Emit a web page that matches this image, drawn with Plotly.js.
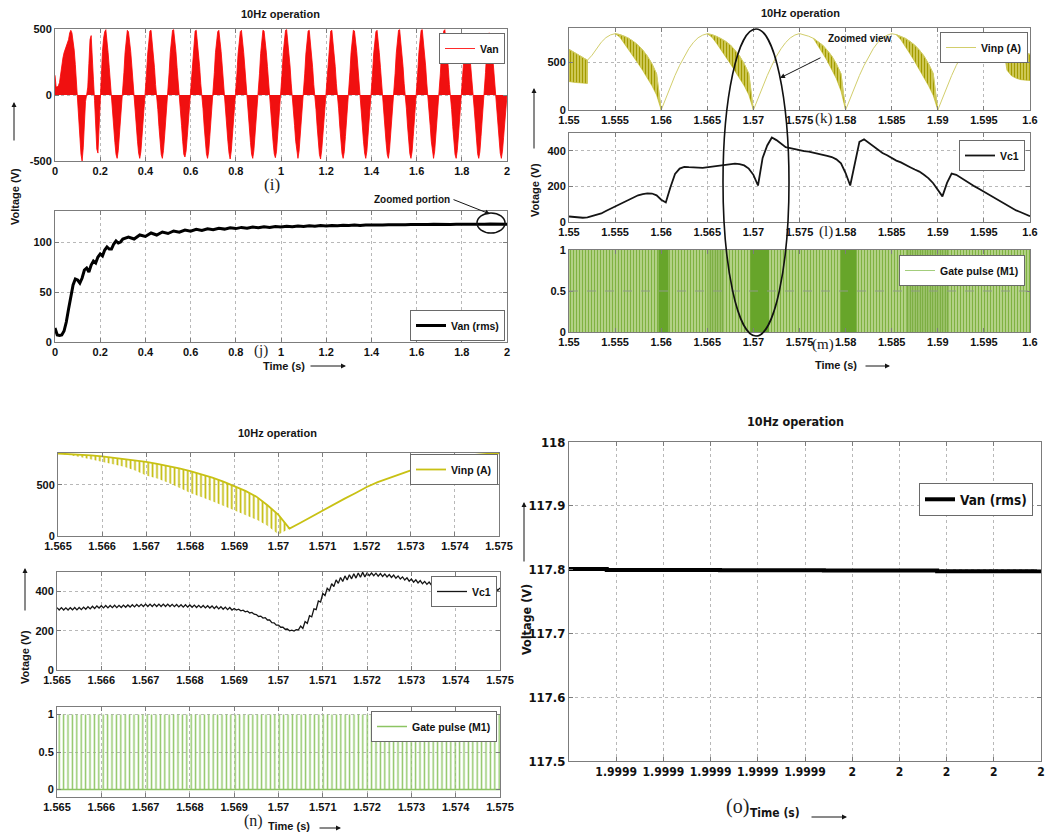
<!DOCTYPE html>
<html>
<head>
<meta charset="utf-8">
<script src="https://cdn.plot.ly/plotly-3.0.1.min.js"></script>
<style>
  html, body { margin: 0; padding: 0; background: #fff; }
  #chart { width: 1049px; height: 833px; }
</style>
</head>
<body>
<div id="chart"></div>
<script>
// ---------------- data ----------------
// (i) phase voltage Van, envelope sampled every 5 ms from t = 0 s
const vanStart = 0, vanStep = 0.005;
const vanEnv = [
  150, 60, 62, 70, 95, 170, 230, 280, 320, 345, 370, 395, 420, 470, 490, 470, 420, 340, 230, 90,
  0, -170, -330, -450, -500, -400, -220, -50, 0, 60, 240, 420, 450, 320, 120, -40, -250, -410, -440, -220,
  0, 180, 330, 430, 480, 495, 420, 320, 210, 80, 0, -110, -240, -360, -450, -480, -420, -310, -190, -60,
  0, 170, 320, 430, 490, 480, 420, 330, 220, 90, 0, -100, -230, -350, -440, -480, -430, -320, -200, -70,
  0, 160, 310, 420, 485, 490, 410, 320, 210, 80, 0, -110, -240, -360, -450, -480, -420, -310, -190, -60,
  0, 170, 320, 430, 490, 495, 420, 330, 210, 80, 0, -100, -230, -350, -450, -470, -425, -320, -200, -70,
  0, 165, 315, 425, 485, 490, 415, 325, 215, 85, 0, -105, -235, -355, -445, -480, -430, -315, -195, -65,
  0, 170, 320, 430, 480, 490, 420, 330, 220, 90, 0, -100, -230, -350, -440, -485, -425, -320, -200, -70,
  0, 160, 310, 420, 480, 490, 415, 320, 210, 80, 0, -110, -240, -360, -450, -480, -420, -310, -190, -60,
  0, 165, 315, 425, 490, 485, 415, 325, 215, 85, 0, -105, -235, -355, -445, -475, -430, -315, -195, -65,
  0, 170, 320, 430, 490, 495, 420, 330, 220, 90, 0, -100, -230, -350, -440, -480, -425, -320, -200, -70,
  0, 160, 310, 420, 485, 490, 410, 320, 210, 80, 0, -110, -240, -360, -450, -485, -420, -310, -190, -60,
  0, 165, 315, 425, 485, 490, 415, 325, 215, 85, 0, -105, -235, -355, -445, -480, -430, -315, -195, -65,
  0, 170, 320, 430, 490, 485, 420, 330, 220, 90, 0, -100, -230, -350, -440, -480, -425, -320, -200, -70,
  0, 160, 310, 420, 480, 490, 415, 320, 210, 80, 0, -110, -240, -360, -450, -480, -420, -310, -190, -60,
  0, 165, 315, 425, 490, 495, 415, 325, 215, 85, 0, -105, -235, -355, -445, -480, -430, -315, -195, -65,
  0, 170, 320, 430, 490, 495, 420, 330, 220, 90, 0, -100, -230, -350, -440, -480, -425, -320, -200, -70,
  0, 160, 310, 420, 485, 495, 410, 320, 210, 80, 0, -110, -240, -360, -450, -480, -420, -310, -190, -60,
  0, 165, 315, 420, 460, 455, 415, 325, 215, 85, 0, -105, -235, -355, -445, -480, -430, -315, -195, -65,
  0, 170, 320, 430, 470, 465, 420, 330, 220, 90, 0, -100, -230, -350, -440, -480, -425, -320, -200, -70,
  0
];

// (j) Van rms build-up
const rmsEarlyT = [0, 0.005, 0.01, 0.02, 0.03, 0.04, 0.05, 0.06, 0.07, 0.08, 0.09, 0.10, 0.11, 0.12, 0.13,
  0.14, 0.15, 0.16, 0.17, 0.18, 0.19, 0.20, 0.21, 0.22, 0.23, 0.24, 0.25, 0.26, 0.27, 0.28, 0.29];
const rmsEarlyV = [14, 9, 7, 6.5, 7, 11, 20, 33, 46, 57, 63, 62, 59, 64, 72,
  74, 70, 77, 81, 79, 85, 88, 86, 92, 95, 93, 93, 98, 101, 99, 100];
const rmsLateStart = 0.3, rmsLateStep = 0.025;
const rmsLateV = [
  103, 105, 103, 107, 105.5, 109, 107, 110, 108.5, 111,
  109.8, 112, 110.8, 112.7, 111.6, 113.3, 112.3, 113.8, 112.9, 114.2,
  113.4, 114.6, 113.8, 114.9, 114.2, 115.2, 114.6, 115.5, 114.9, 115.8,
  115.2, 116, 115.5, 116.2, 115.7, 116.4, 116, 116.6, 116.2, 116.8,
  116.4, 116.9, 116.6, 117.1, 116.8, 117.2, 116.9, 117.3, 117.1, 117.4,
  117.2, 117.5, 117.3, 117.6, 117.4, 117.7, 117.5, 117.8, 117.6, 117.8,
  117.7, 117.9, 117.7, 117.9, 117.8, 118, 117.8, 118, 117.8
];

// (k) input voltage Vinp (A), 0.5 ms samples from 1.55 s; lower edge of the chopped parts
const vinpKStart = 1.55, vinpKStep = 0.0005;
const vinpK = [
  640, 610, 582, 555, 525,
  578, 652, 715, 763, 792, 805,
  796, 778, 755, 722, 684, 632, 568, 487, 382, 0,
  127, 249, 365, 471, 566, 648, 714, 762, 790, 804,
  795, 777, 754, 723, 686, 633, 570, 488, 384, 0,
  124, 246, 362, 470, 567, 646, 712, 760, 791, 806,
  796, 778, 756, 724, 685, 631, 569, 486, 383, 0,
  126, 248, 364, 469, 565, 647, 713, 761, 789, 805,
  795, 777, 755, 722, 684, 632, 570, 487, 385, 0,
  125, 247, 363, 470, 566, 647, 713, 761, 790, 805,
  796, 778, 755, 724, 692, 668, 642, 620, 602, 588
];
const vinpKLo = [
  300, 292, 286, 282, 280,
  null, null, null, null, null,
  805,
  770, 706, 640, 561, 490, 416, 340, 255, 158, 0,
  null, null, null, null, null, null, null, null, null,
  804,
  768, 704, 638, 560, 488, 414, 338, 256, 160, 0,
  null, null, null, null, null, null, null, null, null, null, null, null,
  756,
  680, 600, 520, 430, 330, 200, 0,
  null, null, null, null, null, null, null, null, null, null,
  795, 740, 670, 590, 510, 430, 345, 255, 155, 0,
  null, null, null, null, null, null, null, null, null, null, null, null, null,
  724,
  420, 360, 335, 320, 315, 312
];

// (l) capacitor voltage Vc1, 0.5 ms samples from 1.55 s
const vc1KStart = 1.55, vc1KStep = 0.0005;
const vc1K = [
  31, 28, 25, 24, 26, 33, 40, 48, 62, 75,
  88, 100, 112, 128, 140, 150, 157, 161, 160, 150,
  125, 110, 195, 270, 300, 310, 308, 305, 306, 304,
  308, 312, 315, 318, 322, 326, 328, 325, 318, 300,
  265, 205, 360, 430, 475, 460, 440, 420, 415, 408,
  402, 398, 395, 390, 385, 380, 372, 365, 352, 330,
  275, 205, 330, 450, 465, 445, 425, 405, 388, 375,
  360, 345, 335, 320, 308, 295, 283, 265, 245, 218,
  180, 144, 220, 272, 265, 248, 230, 215, 200, 185,
  170, 155, 140, 125, 108, 95, 80, 65, 55, 43,
  33
];

// (m) gate pulse M1 over 1.55-1.6 s and the stretches of dense switching
const gateKT = [1.55, 1.6];
const gateKOn = [1, 1];
const gateKDenseStart = [1.5597, 1.5697, 1.5795];
const gateKDenseEnd = [1.5608, 1.5717, 1.5812];
const gateKMidStart = [1.5650, 1.5866];
const gateKMidEnd = [1.5668, 1.5912];

// (n) detail 1.565-1.575 s: Vinp (0.25 ms samples) and lower tips of the chopping
const vinpNStart = 1.565, vinpNStep = 0.00025;
const vinpN = [805, 800, 795, 787, 777, 765, 752, 738, 723, 703, 685, 660, 632, 600, 570, 530, 487, 440,
  384, 300, 206, 72, 130, 190, 245, 305, 365, 420, 478, 525, 565, 605, 640, 675, 705, 735, 765, 785,
  795, 802, 806];
const vinpNLo = [805, 790, 770, 750, 725, 700, 675, 640, 590, 560, 520, 470, 420, 380, 340, 295, 255, 205,
  160, 100, 15, 72, null, null, null, null, null, null, null, null, null, null, null, null, null, null,
  null, null, null, null, null];

// (n) Vc1 with switching ripple, 0.05 ms samples
const vc1NStart = 1.565, vc1NStep = 0.00005;
const vc1N = [
  318, 306, 318, 306, 317, 306, 318, 307, 319, 307, 319, 308, 321, 310, 323, 312, 325, 314, 327, 316,
  328, 317, 329, 317, 329, 318, 330, 318, 330, 319, 331, 320, 332, 321, 333, 322, 334, 323, 335, 324,
  336, 324, 336, 324, 336, 324, 336, 324, 336, 324, 336, 324, 335, 323, 334, 322, 333, 321, 333, 321,
  332, 320, 331, 319, 330, 318, 329, 317, 328, 316, 327, 314, 325, 312, 323, 310, 321, 308, 319, 306,
  314, 306, 310, 302, 305, 297, 300, 291, 294, 285, 283, 273, 275, 265, 267, 255, 255, 242, 241, 229,
  229, 218, 218, 208, 209, 200, 203, 199, 206, 205, 224, 212, 247, 238, 277, 271, 312, 308, 352, 347,
  390, 380, 417, 405, 440, 426, 460, 442, 472, 452, 480, 459, 486, 465, 491, 469, 495, 473, 498, 475,
  495, 481, 495, 481, 494, 479, 492, 477, 490, 475, 487, 472, 484, 468, 480, 464, 475, 459, 470, 453,
  464, 448, 460, 444, 456, 440, 452, 437, 449, 434, 446, 431, 443, 428, 440, 425, 437, 422, 435, 420,
  433, 418, 431, 416, 429, 414, 427, 412, 425, 411, 424, 410, 423, 409, 422, 408, 421, 407, 420, 406,
  419
];

// (n) gate pulse M1 over 1.565-1.575 s
const gateNT = [1.565, 1.575];
const gateNOn = [1, 1];
const gateNOff = [0, 0];

// (o) Van rms at the end of the run
const rmsZT = [1.9999, 1.999908, 1.999932, 1.999954, 1.999978, 2.0];
const rmsZV = [117.801, 117.7993, 117.7988, 117.7984, 117.7975, 117.7975];

// tick values and labels
const ticksFull = [0, 0.2, 0.4, 0.6, 0.8, 1, 1.2, 1.4, 1.6, 1.8, 2];
const ticksK = [1.55, 1.555, 1.56, 1.565, 1.57, 1.575, 1.58, 1.585, 1.59, 1.595, 1.6];
const ticksGate = [0, 0.5, 1];
const ticksN = [1.565, 1.566, 1.567, 1.568, 1.569, 1.57, 1.571, 1.572, 1.573, 1.574, 1.575];
const ticksO = [1.99991, 1.99992, 1.99993, 1.99994, 1.99995, 1.99996, 1.99997, 1.99998, 1.99999, 2.0];
const ticksOText = ['1.9999', '1.9999', '1.9999', '1.9999', '1.9999', '2', '2', '2', '2', '2'];
const ticksOY = [117.5, 117.6, 117.7, 117.8, 117.9, 118];
const ticksOYText = ['117.5', '117.6', '117.7', '117.8', '117.9', '118'];

// ---------------- helpers ----------------
const W = 1049, H = 833;
const FONT = '"Liberation Sans", Arial, Helvetica, sans-serif';
const FONT_N = '"Liberation Sans Narrow", "Arial Narrow", "DejaVu Sans Condensed", "Liberation Sans", sans-serif';
const SERIF = '"Liberation Serif", "Times New Roman", serif';

const px = x => x / W;
const py = y => 1 - y / H;
const domX = (a, b) => [a / W, b / W];
const domY = (top, bot) => [1 - bot / H, 1 - top / H];
const timeAxis = (start, step, n) => Array.from({length: n}, (_, i) => +(start + i * step).toFixed(7));

// closed outlines between an upper and lower edge, one per run of defined lower values
function bandOutline(t, hi, lo) {
  const xs = [], ys = [];
  let i = 0;
  while (i < t.length) {
    if (lo[i] == null) { i++; continue; }
    let j = i;
    while (j < t.length && lo[j] != null) j++;
    for (let k = i; k < j; k++) { xs.push(t[k]); ys.push(hi[k]); }
    for (let k = j - 1; k >= i; k--) { xs.push(t[k]); ys.push(lo[k]); }
    xs.push(null); ys.push(null);
    i = j;
  }
  return {xs, ys};
}
function rects(starts, ends, yLo, yHi) {
  const xs = [], ys = [];
  starts.forEach((s, i) => {
    const e = ends[i];
    xs.push(s, s, e, e, s, null);
    ys.push(yLo, yHi, yHi, yLo, yLo, null);
  });
  return {xs, ys};
}

function axis(extra) {
  return Object.assign({
    showline: true, mirror: 'ticks', linecolor: '#7c7c7c', linewidth: 1,
    ticks: 'inside', ticklen: 4, tickcolor: '#7c7c7c', tickwidth: 1,
    showgrid: true, gridcolor: '#b8b8b8', griddash: 'dot', gridwidth: 1,
    zeroline: false, fixedrange: true, tickmode: 'array',
    tickfont: {family: FONT, size: 11, color: '#111', weight: 'bold'}
  }, extra);
}
function legendBox(right, top, font, anchorBottom) {
  return {
    x: px(right), y: py(top), xref: 'paper', yref: 'paper', xanchor: 'right',
    yanchor: anchorBottom ? 'bottom' : 'top',
    bgcolor: '#ffffff', bordercolor: '#6a6a6a', borderwidth: 1, itemwidth: 30,
    font: font || {family: FONT, size: 10.5, color: '#111', weight: 'bold'},
    itemclick: false, itemdoubleclick: false
  };
}

// ---------------- traces ----------------
const vanT = timeAxis(vanStart, vanStep, vanEnv.length);
const rmsT = rmsEarlyT.concat(timeAxis(rmsLateStart, rmsLateStep, rmsLateV.length));
const rmsV = rmsEarlyV.concat(rmsLateV);
const vinpKT = timeAxis(vinpKStart, vinpKStep, vinpK.length);
const vc1KT = timeAxis(vc1KStart, vc1KStep, vc1K.length);
const vinpNT = timeAxis(vinpNStart, vinpNStep, vinpN.length);
const vc1NT = timeAxis(vc1NStart, vc1NStep, vc1N.length);

const chopK = bandOutline(vinpKT, vinpK, vinpKLo);
const chopN = bandOutline(vinpNT, vinpN, vinpNLo);
const denseK = rects(gateKDenseStart, gateKDenseEnd, 0, 1);
const midK = rects(gateKMidStart, gateKMidEnd, 0, 1);

const skip = {hoverinfo: 'skip'};
const traces = [
  // (i)
  Object.assign({x: vanT, y: vanEnv, xaxis: 'x', yaxis: 'y', mode: 'lines', fill: 'tozeroy',
    fillcolor: '#f01010', line: {color: '#ff0000', width: 0.8}, showlegend: false}, skip),
  {x: [null], y: [null], xaxis: 'x', yaxis: 'y', mode: 'lines', name: 'Van',
    line: {color: '#ff2a2a', width: 1}, legend: 'legend'},
  // (j)
  {x: rmsT, y: rmsV, xaxis: 'x2', yaxis: 'y2', mode: 'lines', name: 'Van (rms)',
    line: {color: '#000', width: 3}, legend: 'legend2'},
  // (k)
  Object.assign({x: chopK.xs, y: chopK.ys, xaxis: 'x3', yaxis: 'y3', mode: 'lines', fill: 'toself',
    fillcolor: '#cdc640', fillpattern: {shape: '|', fgcolor: '#a39b00', bgcolor: '#d6d064', size: 3, solidity: 0.45},
    line: {color: '#bdb51c', width: 0.6}, showlegend: false}, skip),
  {x: vinpKT, y: vinpK, xaxis: 'x3', yaxis: 'y3', mode: 'lines', name: 'Vinp (A)',
    line: {color: '#d2ce6c', width: 1}, legend: 'legend3'},
  // (l)
  {x: vc1KT, y: vc1K, xaxis: 'x4', yaxis: 'y4', mode: 'lines', name: 'Vc1',
    line: {color: '#151515', width: 1.8}, legend: 'legend4'},
  // (m)
  Object.assign({x: gateKT, y: gateKOn, xaxis: 'x5', yaxis: 'y5', mode: 'lines', fill: 'tozeroy',
    fillcolor: '#b3d186', fillpattern: {shape: '|', fgcolor: '#7fb241', bgcolor: '#bdd893', size: 3, solidity: 0.45},
    line: {width: 0}, showlegend: false}, skip),
  Object.assign({x: midK.xs, y: midK.ys, xaxis: 'x5', yaxis: 'y5', mode: 'lines', fill: 'toself',
    fillcolor: '#a3c873', fillpattern: {shape: '|', fgcolor: '#6fa532', bgcolor: '#abcd7e', size: 2.5, solidity: 0.5},
    line: {width: 0}, showlegend: false}, skip),
  Object.assign({x: denseK.xs, y: denseK.ys, xaxis: 'x5', yaxis: 'y5', mode: 'lines', fill: 'toself',
    fillcolor: '#67a52a', line: {width: 0}, showlegend: false}, skip),
  {x: [null], y: [null], xaxis: 'x5', yaxis: 'y5', mode: 'lines', name: 'Gate pulse (M1)',
    line: {color: '#a3cd7c', width: 1}, legend: 'legend5'},
  // (n) Vinp
  Object.assign({x: chopN.xs, y: chopN.ys, xaxis: 'x6', yaxis: 'y6', mode: 'lines', fill: 'toself',
    fillcolor: 'rgba(0,0,0,0)', fillpattern: {shape: '|', fgcolor: '#c3bc0a', bgcolor: 'rgba(255,255,255,0)', size: 4.4, solidity: 0.38},
    line: {width: 0}, showlegend: false}, skip),
  {x: vinpNT, y: vinpN, xaxis: 'x6', yaxis: 'y6', mode: 'lines', name: 'Vinp (A)',
    line: {color: '#c8c114', width: 1.8}, legend: 'legend6'},
  // (n) Vc1
  {x: vc1NT, y: vc1N, xaxis: 'x7', yaxis: 'y7', mode: 'lines', name: 'Vc1',
    line: {color: '#151515', width: 1.3}, legend: 'legend7'},
  // (n) gate pulse
  Object.assign({x: gateNT, y: gateNOn, xaxis: 'x8', yaxis: 'y8', mode: 'lines', fill: 'tozeroy',
    fillcolor: 'rgba(0,0,0,0)', fillpattern: {shape: '|', fgcolor: '#8fc566', bgcolor: 'rgba(255,255,255,0)', size: 4.4, solidity: 0.33},
    line: {width: 0}, showlegend: false}, skip),
  {x: gateNT, y: gateNOff, xaxis: 'x8', yaxis: 'y8', mode: 'lines', name: 'Gate pulse (M1)',
    line: {color: '#8cc462', width: 1.5}, legend: 'legend8'},
  // (o)
  {x: rmsZT, y: rmsZV, xaxis: 'x9', yaxis: 'y9', mode: 'lines', name: 'Van (rms)',
    line: {color: '#000', width: 4, shape: 'hv'}, legend: 'legend9'}
];

// ---------------- layout ----------------
const str = a => a.map(String);
const oFont = {family: FONT_N, size: 12, color: '#111', weight: 'bold'};
const layout = {
  width: W, height: H,
  margin: {l: 0, r: 0, t: 0, b: 0, pad: 0},
  paper_bgcolor: '#fff', plot_bgcolor: '#fff',
  font: {family: FONT, color: '#151515'},
  showlegend: true,

  xaxis:  axis({domain: domX(55, 507), range: [0, 2], tickvals: ticksFull, ticktext: str(ticksFull), anchor: 'y'}),
  yaxis:  axis({domain: domY(29, 161), range: [-500, 500], tickvals: [-500, 0, 500], ticktext: ['-500', '0', '500'], anchor: 'x'}),
  xaxis2: axis({domain: domX(55, 507), range: [0, 2], tickvals: ticksFull, ticktext: str(ticksFull), anchor: 'y2'}),
  yaxis2: axis({domain: domY(211, 342), range: [0, 131], tickvals: [0, 50, 100], ticktext: ['0', '50', '100'], anchor: 'x2'}),

  xaxis3: axis({domain: domX(569, 1030), range: [1.55, 1.6], tickvals: ticksK, ticktext: str(ticksK), anchor: 'y3'}),
  yaxis3: axis({domain: domY(28, 110), range: [0, 865], tickvals: [0, 500], ticktext: ['0', '500'], anchor: 'x3'}),
  xaxis4: axis({domain: domX(569, 1030), range: [1.55, 1.6], tickvals: ticksK, ticktext: str(ticksK), anchor: 'y4'}),
  yaxis4: axis({domain: domY(133, 222), range: [0, 500], tickvals: [0, 200, 400], ticktext: ['0', '200', '400'], anchor: 'x4'}),
  xaxis5: axis({domain: domX(569, 1030), range: [1.55, 1.6], tickvals: ticksK, ticktext: str(ticksK), anchor: 'y5'}),
  yaxis5: axis({domain: domY(250, 332), range: [0, 1], tickvals: ticksGate, ticktext: str(ticksGate), anchor: 'x5'}),

  xaxis6: axis({domain: domX(58, 499), range: [1.565, 1.575], tickvals: ticksN, ticktext: str(ticksN), anchor: 'y6'}),
  yaxis6: axis({domain: domY(453, 536), range: [0, 810], tickvals: [0, 500], ticktext: ['0', '500'], anchor: 'x6'}),
  xaxis7: axis({domain: domX(57, 500), range: [1.565, 1.575], tickvals: ticksN, ticktext: str(ticksN), anchor: 'y7'}),
  yaxis7: axis({domain: domY(572, 670), range: [0, 500], tickvals: [0, 200, 400], ticktext: ['0', '200', '400'], anchor: 'x7'}),
  xaxis8: axis({domain: domX(57, 500), range: [1.565, 1.575], tickvals: ticksN, ticktext: str(ticksN), anchor: 'y8'}),
  yaxis8: axis({domain: domY(707, 797), range: [-0.1, 1.1], tickvals: ticksGate, ticktext: str(ticksGate), anchor: 'x8'}),

  xaxis9: axis({domain: domX(569, 1041), range: [1.9999, 2.0], tickvals: ticksO, ticktext: ticksOText, anchor: 'y9', tickfont: oFont}),
  yaxis9: axis({domain: domY(442, 761), range: [117.5, 118], tickvals: ticksOY, ticktext: ticksOYText, anchor: 'x9',
    tickfont: {family: FONT_N, size: 13, color: '#111', weight: 'bold'}}),

  legend:  legendBox(505, 33),
  legend2: legendBox(505, 341, null, true),
  legend3: legendBox(1028, 32),
  legend4: legendBox(1025, 140),
  legend5: legendBox(1025, 255),
  legend6: legendBox(498, 454),
  legend7: legendBox(497, 576),
  legend8: legendBox(497, 711),
  legend9: legendBox(1033, 483, {family: FONT_N, size: 13.5, color: '#111', weight: 'bold'}),

  shapes: [
    // grid line at the middle gate level, visible through the pulse train
    {type: 'line', xref: 'x5 domain', x0: 0, x1: 1, yref: 'y5', y0: ticksGate[1], y1: ticksGate[1],
     line: {color: '#8f9a86', width: 1, dash: 'dash'}, layer: 'above'},
    {type: 'circle', xref: 'paper', yref: 'paper', x0: px(477), x1: px(505), y0: py(233), y1: py(213),
     line: {color: '#111', width: 1.5}},
    {type: 'circle', xref: 'paper', yref: 'paper', x0: px(723), x1: px(789), y0: py(336), y1: py(29),
     line: {color: '#111', width: 1.6}}
  ],
  annotations: []
};

function label(text, x, y, opts) {
  return Object.assign({
    text: text, x: px(x), y: py(y), xref: 'paper', yref: 'paper', showarrow: false,
    xanchor: 'center', yanchor: 'middle',
    font: {family: FONT, size: 11, color: '#151515', weight: 'bold'}
  }, opts || {});
}
function arrow(headX, headY, tailX, tailY) {
  return {
    text: '', x: px(headX), y: py(headY), xref: 'paper', yref: 'paper', showarrow: true,
    axref: 'pixel', ayref: 'pixel', ax: tailX - headX, ay: tailY - headY,
    arrowhead: 2, arrowsize: 1, arrowwidth: 1, arrowcolor: '#151515'
  };
}
const serif = size => ({font: {family: SERIF, size: size, color: '#222'}});
const narrow = size => ({font: {family: FONT_N, size: size, color: '#151515', weight: 'bold'}});

layout.annotations.push(
  // panel titles
  label('10Hz operation', 280, 14),
  label('10Hz operation', 800, 13),
  label('10Hz operation', 277, 433),
  label('10Hz operation', 795, 421, narrow(12.5)),
  // panel tags
  label('(i)', 272, 185, serif(17)),
  label('(j)', 261, 350, serif(15)),
  label('(k)', 824, 118, serif(15)),
  label('(l)', 826, 231, serif(15)),
  label('(m)', 823, 345, serif(15)),
  label('(n)', 253, 821, serif(16)),
  label('(o)', 737, 806, serif(20)),
  // time axis captions with arrows
  label('Time (s)', 284, 366),
  arrow(346, 366, 309, 366),
  label('Time (s)', 836, 365),
  arrow(890, 366, 864, 366),
  label('Time (s)', 289, 826),
  arrow(341, 828, 318, 828),
  label('Time (s)', 775, 813, narrow(12)),
  arrow(847, 817, 810, 817),
  // voltage captions with arrows
  label('Voltage (V)', 15, 197, {textangle: -90}),
  arrow(14, 102, 14, 142),
  label('Votage (V)', 535, 190, {textangle: -90}),
  arrow(534, 88, 534, 150),
  label('Votage (V)', 25, 657, {textangle: -90}),
  arrow(25, 568, 25, 612),
  label('Voltage (V)', 526, 620, Object.assign({textangle: -90}, narrow(12.5))),
  arrow(524, 502, 524, 563),
  // zoom call-outs
  label('Zoomed portion', 412, 199, {font: {family: FONT, size: 10, color: '#151515', weight: 'bold'}}),
  arrow(490, 214, 452, 199),
  label('Zoomed view', 860, 39, {font: {family: FONT, size: 10, color: '#151515', weight: 'bold'}}),
  arrow(780, 78, 822, 57)
);

Plotly.newPlot('chart', traces, layout, {staticPlot: true, displayModeBar: false});
</script>
</body>
</html>
